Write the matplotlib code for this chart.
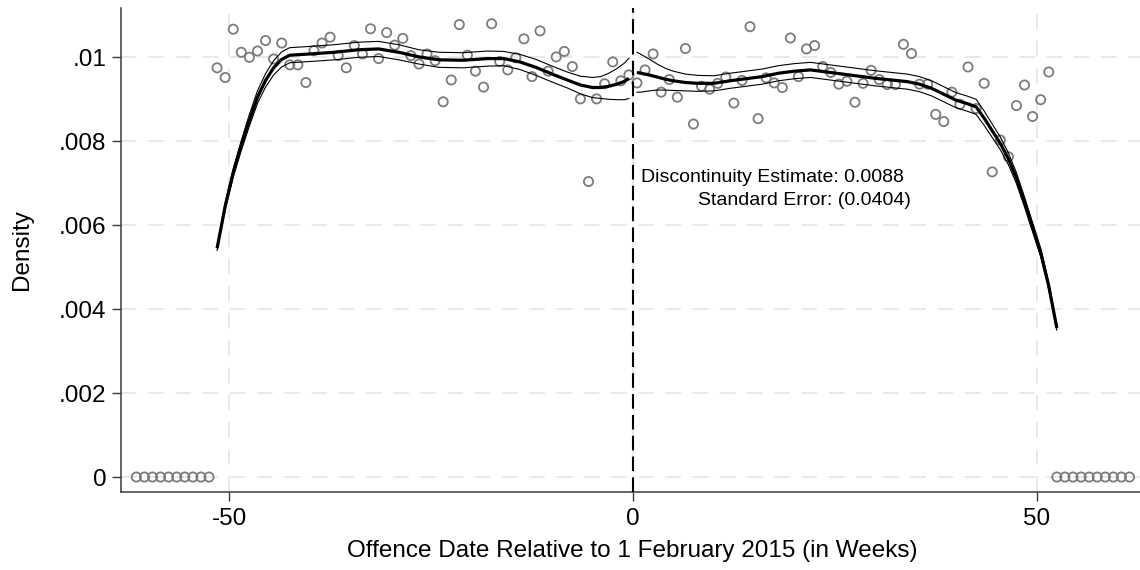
import numpy as np
import matplotlib
matplotlib.use("Agg")
import matplotlib.pyplot as plt

plt.rcParams['font.family'] = ['Liberation Sans', 'DejaVu Sans']
plt.rcParams['axes.unicode_minus'] = False

# Weekly bins (week midpoints relative to the cutoff) and their histogram densities
weeks = np.arange(-61.5, 62.0, 1.0)
density = [
    # -61.5 .. -52.5 (no observations)
    0, 0, 0, 0, 0, 0, 0, 0, 0, 0,
    # -51.5 .. -0.5
    0.00975, 0.00952, 0.01067, 0.01012, 0.01000, 0.01015, 0.01040, 0.00996,
    0.01034, 0.00982, 0.00982, 0.00940, 0.01016, 0.01034, 0.01048, 0.01004,
    0.00975, 0.01028, 0.01008, 0.01068, 0.00997, 0.01059, 0.01029, 0.01045,
    0.01004, 0.00984, 0.01008, 0.00992, 0.00894, 0.00946, 0.01078, 0.01005,
    0.00967, 0.00929, 0.01080, 0.00990, 0.00970, 0.00999, 0.01044, 0.00954,
    0.01063, 0.00967, 0.01001, 0.01014, 0.00978, 0.00901, 0.00704, 0.00901,
    0.00937, 0.00989, 0.00944, 0.00958,
    # 0.5 .. 51.5
    0.00939, 0.00970, 0.01008, 0.00917, 0.00947, 0.00905, 0.01021, 0.00841,
    0.00931, 0.00924, 0.00938, 0.00953, 0.00891, 0.00945, 0.01073, 0.00854,
    0.00951, 0.00939, 0.00928, 0.01046, 0.00954, 0.01020, 0.01028, 0.00978,
    0.00964, 0.00936, 0.00943, 0.00893, 0.00938, 0.00969, 0.00947, 0.00935,
    0.00935, 0.01031, 0.01009, 0.00936, 0.00936, 0.00864, 0.00847, 0.00917,
    0.00888, 0.00977, 0.00878, 0.00938, 0.00727, 0.00803, 0.00763, 0.00885,
    0.00934, 0.00859, 0.00899, 0.00965,
    # 52.5 .. 61.5 (no observations)
    0, 0, 0, 0, 0, 0, 0, 0, 0, 0,
]

# Local polynomial density fit with confidence bounds, left of the cutoff
left_x = [-51.5, -50.5, -49.5, -48.5, -47.5, -46.5, -45.5, -44.5, -43.5, -42.5,
          -40, -37, -34, -31.5, -29, -26.5, -24, -21, -18, -16, -14, -12, -10,
          -8, -6.5, -5, -4, -3, -2, -1, -0.5]
left_fit = [0.00545, 0.00645, 0.00725, 0.00790, 0.00850, 0.00905, 0.00945,
            0.00975, 0.00995, 0.01005, 0.01008, 0.01012, 0.01018, 0.01020,
            0.01012, 0.01001, 0.00994, 0.00993, 0.00997, 0.00997, 0.00989,
            0.00976, 0.00960, 0.00945, 0.00934, 0.00928, 0.00928, 0.00931,
            0.00936, 0.00943, 0.00950]
left_lo = [0.00540, 0.00637, 0.00715, 0.00778, 0.00836, 0.00890, 0.00929,
           0.00958, 0.00977, 0.00987, 0.00990, 0.00994, 0.01000, 0.01002,
           0.00994, 0.00984, 0.00976, 0.00975, 0.00979, 0.00980, 0.00971,
           0.00957, 0.00941, 0.00926, 0.00913, 0.00904, 0.00902, 0.00900,
           0.00899, 0.00899, 0.00902]
left_hi = [0.00550, 0.00653, 0.00735, 0.00802, 0.00864, 0.00920, 0.00961,
           0.00992, 0.01013, 0.01023, 0.01026, 0.01030, 0.01036, 0.01038,
           0.01030, 0.01018, 0.01012, 0.01011, 0.01015, 0.01014, 0.01007,
           0.00995, 0.00979, 0.00964, 0.00955, 0.00952, 0.00954, 0.00962,
           0.00973, 0.00987, 0.00998]

# Same fit, right of the cutoff
right_x = [0.5, 1, 2, 3, 4, 5, 6.5, 8, 10, 12, 14, 16, 18, 20, 22, 24, 26, 28,
           30, 32, 34, 35.5, 37, 38.5, 40, 41.5, 42.5, 43.5, 44.5, 45.5, 46.5,
           47.5, 48.5, 49.5, 50.5, 51.5, 52.5]
right_fit = [0.00964, 0.00962, 0.00958, 0.00953, 0.00948, 0.00944, 0.00940,
             0.00938, 0.00938, 0.00944, 0.00949, 0.00954, 0.00962, 0.00967,
             0.00970, 0.00965, 0.00960, 0.00955, 0.00950, 0.00946, 0.00942,
             0.00936, 0.00926, 0.00912, 0.00898, 0.00889, 0.00882, 0.00855,
             0.00825, 0.00795, 0.00758, 0.00712, 0.00655, 0.00595, 0.00535,
             0.00455, 0.00355]
right_lo = [0.00917, 0.00917, 0.00920, 0.00922, 0.00922, 0.00921, 0.00920,
            0.00919, 0.00920, 0.00926, 0.00931, 0.00936, 0.00944, 0.00949,
            0.00952, 0.00947, 0.00942, 0.00937, 0.00932, 0.00928, 0.00924,
            0.00918, 0.00908, 0.00894, 0.00880, 0.00871, 0.00864, 0.00838,
            0.00809, 0.00780, 0.00744, 0.00699, 0.00643, 0.00584, 0.00525,
            0.00447, 0.00350]
right_hi = [0.01012, 0.01007, 0.00996, 0.00984, 0.00974, 0.00967, 0.00960,
            0.00957, 0.00956, 0.00962, 0.00967, 0.00972, 0.00980, 0.00985,
            0.00988, 0.00983, 0.00978, 0.00973, 0.00968, 0.00964, 0.00960,
            0.00954, 0.00944, 0.00930, 0.00916, 0.00907, 0.00900, 0.00872,
            0.00841, 0.00810, 0.00772, 0.00725, 0.00667, 0.00606, 0.00545,
            0.00463, 0.00360]

y_ticks = [0, 0.002, 0.004, 0.006, 0.008, 0.01]
y_tick_labels = ['0', '.002', '.004', '.006', '.008', '.01']
x_ticks = [-50, 0, 50]
x_tick_labels = ['-50', '0', '50']

estimate_text = 'Discontinuity Estimate: 0.0088'
se_text = 'Standard Error: (0.0404)'

W, H = 1140, 570
fig = plt.figure(figsize=(W / 100, H / 100), dpi=100)
ax = fig.add_axes([121 / W, 1 - 492 / H, (W - 121) / W, 484 / H])

grid_kw = dict(color='#e9e9e9', lw=1.4, dashes=(8, 6), zorder=0)
for yv in y_ticks:
    ax.axhline(yv, **grid_kw)
for xv in x_ticks:
    ax.axvline(xv, **grid_kw)

ax.scatter(weeks, density, s=44, facecolors='none', edgecolors='#7c7c7c',
           linewidths=1.3, zorder=2)

for xs, fit, lo, hi in [(left_x, left_fit, left_lo, left_hi),
                        (right_x, right_fit, right_lo, right_hi)]:
    ax.plot(xs, lo, color='black', lw=0.8, zorder=3)
    ax.plot(xs, hi, color='black', lw=0.8, zorder=3)
    ax.plot(xs, fit, color='black', lw=2.3, zorder=4, solid_capstyle='butt')

ax.axvline(0, color='black', lw=1.5, dashes=(7, 3), zorder=5)

ax.text(1.0, 0.00703, estimate_text, ha='left', va='baseline', fontsize=14)
ax.text(34.4, 0.00647, se_text, ha='right', va='baseline', fontsize=14)

ax.set_xlim(-63.4, 62.8)
ax.set_ylim(-0.000357, 0.011175)
ax.set_xticks(x_ticks)
ax.set_xticklabels(x_tick_labels)
ax.set_yticks(y_ticks)
ax.set_yticklabels(y_tick_labels)

for side in ['top', 'right']:
    ax.spines[side].set_visible(False)
for side in ['left', 'bottom']:
    ax.spines[side].set_color('#3a3a3a')
    ax.spines[side].set_linewidth(1.1)
ax.tick_params(axis='both', length=6.5, width=1.0, color='#3a3a3a',
               labelsize=17.5, pad=4)
ax.tick_params(axis='x', pad=5)

ax.set_xlabel('Offence Date Relative to 1 February 2015 (in Weeks)', fontsize=17.5)
ax.set_ylabel('Density', fontsize=17.5)
ax.xaxis.set_label_coords((632 - 121) / (W - 121), -(551 - 492) / 484)
ax.yaxis.set_label_coords(-(121 - 22) / (W - 121), 0.5)
ax.xaxis.label.set_va('center')
ax.yaxis.label.set_va('center')

fig.savefig('out.png', dpi=100, facecolor='white')
